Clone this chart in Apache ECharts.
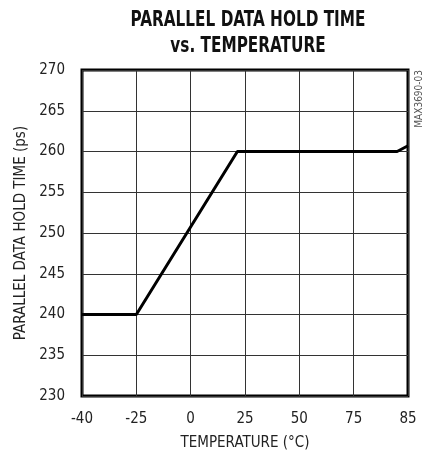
<!DOCTYPE html>
<html>
<head>
<meta charset="utf-8">
<script src="https://cdn.jsdelivr.net/npm/echarts@6/dist/echarts.min.js"></script>
<style>
  html, body { margin: 0; padding: 0; background: #fff; }
  #chart { width: 427px; height: 458px; }
</style>
</head>
<body>
<div id="chart"></div>
<script>
// x positions on an evenly divided axis (-50..100 step 25), labels printed as below
var xTickLabels = ['-40', '-25', '0', '25', '50', '75', '85'];
var tempX = [-50, -25, 21.5, 95, 100];
var holdTime = [240, 240, 260, 260, 260.7];
var titleLines = ['PARALLEL DATA HOLD TIME', 'vs. TEMPERATURE'];

var font = "'DejaVu Sans Condensed', 'Liberation Sans', sans-serif";
var chart = echarts.init(document.getElementById('chart'));

// title drawn as two text lines, stretched a bit vertically like the narrow original
var titleGraphics = titleLines.map(function (t, i) {
    return {
        type: 'text',
        x: 248,
        y: 20.5 + i * 26.5,
        scaleY: 1.22,
        style: {
            text: t,
            font: 'bold 17px ' + font,
            fill: '#111',
            align: 'center',
            verticalAlign: 'middle'
        }
    };
});

var option = {
    animation: false,
    graphic: titleGraphics.concat([{
        type: 'text',
        left: 414,
        top: 70,
        rotation: Math.PI / 2,
        style: {
            text: 'MAX3690-03',
            font: '10px ' + font,
            fill: '#555'
        }
    }]),
    grid: {
        left: 82,
        right: 19,
        top: 70,
        bottom: 62,
        show: true,
        borderColor: '#000',
        borderWidth: 3
    },
    xAxis: {
        type: 'value',
        min: -50,
        max: 100,
        interval: 25,
        name: 'TEMPERATURE (°C)',
        nameLocation: 'middle',
        nameGap: 40,
        nameTextStyle: { fontFamily: font, fontSize: 15, color: '#222' },
        axisLine: { show: false },
        axisTick: { show: false },
        axisLabel: {
            margin: 16,
            fontFamily: font,
            fontSize: 15,
            color: '#222',
            formatter: function (v) {
                return xTickLabels[Math.round((v + 50) / 25)];
            }
        },
        splitLine: { show: true, lineStyle: { color: '#333', width: 1 } }
    },
    yAxis: {
        type: 'value',
        min: 230,
        max: 270,
        interval: 5,
        name: 'PARALLEL DATA HOLD TIME (ps)',
        nameLocation: 'middle',
        nameGap: 53,
        nameTextStyle: { fontFamily: font, fontSize: 15, color: '#222' },
        axisLine: { show: false },
        axisTick: { show: false },
        axisLabel: {
            margin: 17,
            fontFamily: font,
            fontSize: 15,
            color: '#222'
        },
        splitLine: { show: true, lineStyle: { color: '#333', width: 1 } }
    },
    series: [{
        type: 'line',
        symbol: 'none',
        silent: true,
        lineStyle: { color: '#000', width: 3 },
        data: tempX.map(function (x, i) { return [x, holdTime[i]]; })
    }]
};

chart.setOption(option);
window.addEventListener('resize', function () {
    chart.resize();
});
</script>
</body>
</html>
